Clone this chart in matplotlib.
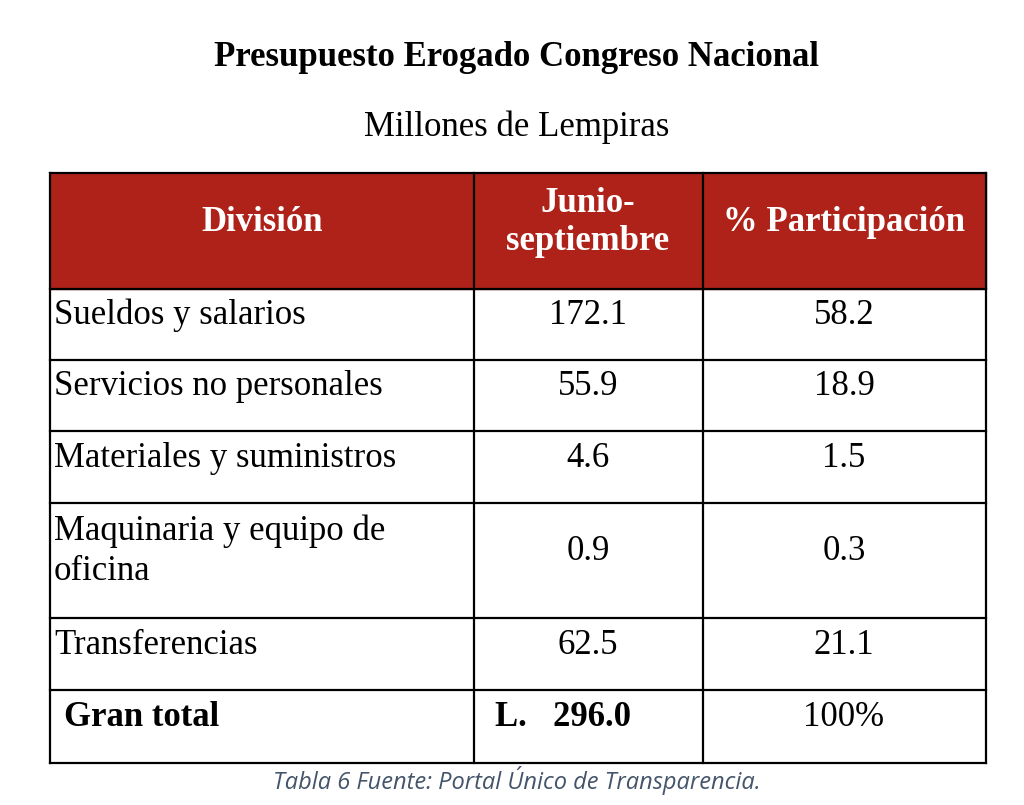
import matplotlib
matplotlib.use("Agg")
import matplotlib.pyplot as plt
from matplotlib.patches import Rectangle

title = "Presupuesto Erogado Congreso Nacional"
subtitle = "Millones de Lempiras"
headers = ["División", "Junio-\nseptiembre", "% Participación"]
divisions = ["Sueldos y salarios", "Servicios no personales", "Materiales y suministros",
             "Maquinaria y equipo de\noficina", "Transferencias"]
values = ["172.1", "55.9", "4.6", "0.9", "62.5"]
shares = ["58.2", "18.9", "1.5", "0.3", "21.1"]
total_label = "Gran total"
total_value = "L.   296.0"
total_share = "100%"
caption = "Tabla 6 Fuente: Portal Único de Transparencia."

fig = plt.figure(figsize=(10.24, 8.05), dpi=100)
ax = fig.add_axes([0, 0, 1, 1])
ax.set_xlim(0, 1024); ax.set_ylim(805, 0); ax.axis("off")
serif = "Liberation Serif"
fs = 25
dy = -9

ax.text(517, 58, title, ha="center", va="center", fontsize=25, fontweight="bold", family=serif)
ax.text(517, 127, subtitle, ha="center", va="center", fontsize=25, family=serif)

xs = [50, 474, 703, 986]
ys = [173, 289, 360, 431, 503, 618, 690, 763]
ax.add_patch(Rectangle((xs[0], ys[0]), xs[-1]-xs[0], ys[1]-ys[0], color="#AE2219", zorder=0))

hx = [262, 588, 844]
for x, h in zip(hx, headers):
    ax.text(x, (ys[0]+ys[1])/2 + dy, h, ha="center", va="center", fontsize=fs, fontweight="bold",
            color="white", family=serif, linespacing=1.2)

for i, (d, v, s) in enumerate(zip(divisions, values, shares)):
    yc = (ys[i+1]+ys[i+2])/2 + dy
    ax.text(54, yc, d, ha="left", va="center", fontsize=fs, family=serif, linespacing=1.27)
    ax.text(588, yc, v, ha="center", va="center", fontsize=fs, family=serif)
    ax.text(844, yc, s, ha="center", va="center", fontsize=fs, family=serif)

yc = (ys[6]+ys[7])/2 + dy
ax.text(64, yc, total_label, ha="left", va="center", fontsize=fs, fontweight="bold", family=serif)
ax.text(495, yc, total_value, ha="left", va="center", fontsize=fs, fontweight="bold", family=serif)
ax.text(844, yc, total_share, ha="center", va="center", fontsize=fs, family=serif)

lw = 1.6
for y in ys:
    ax.plot([xs[0], xs[-1]], [y, y], color="black", lw=lw)
for x in xs:
    ax.plot([x, x], [ys[0], ys[-1]], color="black", lw=lw)

ax.text(517, 780, caption, ha="center", va="center", fontsize=17, style="italic",
        color="#44546A", family="Open Sans")

fig.savefig("out.png", dpi=100)
